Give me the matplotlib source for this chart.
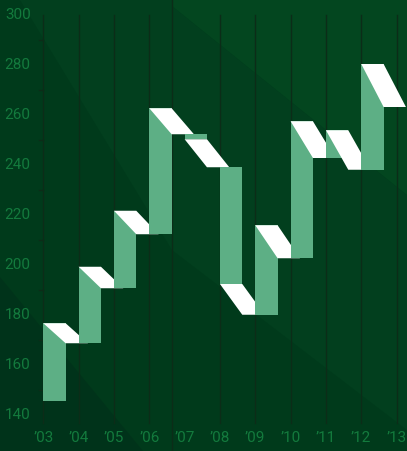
import numpy as np
import matplotlib.pyplot as plt
from matplotlib.patches import Polygon

years = ["'03", "'04", "'05", "'06", "'07", "'08", "'09", "'10", "'11", "'12", "'13"]
opens = [145.7, 168.7, 190.7, 212.3, 252.3, 239.1, 180.1, 202.7, 242.8, 238.1]
closes = [176.7, 199.3, 221.7, 262.7, 250.3, 192.4, 215.9, 257.5, 253.9, 280.4]
last_gap_end = 263.2
y_ticks = [140, 160, 180, 200, 220, 240, 260, 280, 300]
minor_ticks = [150, 170, 190, 210, 230, 250, 270, 290]

W, H = 407, 451
BAR_W = 0.632
BAR_COLOR = "#5daf85"
LABEL_COLOR = "#137a3d"
GRID_COLOR = "#0c2c18"

fig = plt.figure(figsize=(W / 100, H / 100), dpi=100)
fig.patch.set_facecolor("#003a1b")


def px(pts):
    # pixel coords (y down) -> axes fraction
    return [(x / W, 1 - y / H) for x, y in pts]


ax = fig.add_axes([0, 0, 1, 1])
ax.set_facecolor("#003a1b")
ax.set_xlim(-43.3 / 35.33, (W - 43.3) / 35.33)
ax.set_ylim(140 - (H - 415) / 2.5, 300 + 15 / 2.5)
for s in ax.spines.values():
    s.set_visible(False)

bg = [
    ([(20, 0), (172, 250), (407, 430), (407, 195), (172, 6), (172, 0)], "#023f1e"),
    ([(172, 0), (407, 0), (407, 195), (172, 6)], "#03461f"),
    ([(0, 277), (143, 451), (0, 451)], "#00331a"),
]
for pts, col in bg:
    ax.add_patch(Polygon(px(pts), closed=True, transform=ax.transAxes,
                         facecolor=col, edgecolor="none", zorder=0))

xs = np.arange(len(years))

# grid
for i in xs:
    if years[i] == "'07":
        continue
    ax.plot([i, i], [136.7, 300], color=GRID_COLOR, lw=1, zorder=1)
ax.plot([3 + BAR_W, 3 + BAR_W], [ax.get_ylim()[0], ax.get_ylim()[1]], color=GRID_COLOR, lw=1, zorder=1)
for v in minor_ticks:
    ax.plot([-0.12, 0], [v, v], color=GRID_COLOR, lw=1, zorder=1)

# bars and connectors
gap_ends = opens[1:] + [last_gap_end]
for i, (o, c, g) in enumerate(zip(opens, closes, gap_ends)):
    lo, hi = min(o, c), max(o, c)
    ax.add_patch(plt.Rectangle((i, lo), BAR_W, hi - lo, facecolor=BAR_COLOR,
                               edgecolor="none", zorder=2 + 2 * i))
    ax.add_patch(Polygon([(i, c), (i + BAR_W, c), (i + 2 * BAR_W, g), (i + BAR_W, g)],
                         closed=True, facecolor="white", edgecolor="none",
                         zorder=3 + 2 * i))

ax.set_xticks([])
ax.set_yticks([])
for v in y_ticks:
    ax.text(-0.36, v, str(v), ha="right", va="center", fontsize=11,
            family="Roboto", color=LABEL_COLOR, zorder=30)
for i, lab in zip(xs, years):
    ax.text(i, 140 - 23 / 2.5, lab.replace("'", "\u2019"), ha="center", va="center",
            fontsize=11, family="Roboto", color=LABEL_COLOR, zorder=30)

fig.savefig("out.png", dpi=100, facecolor=fig.get_facecolor())
